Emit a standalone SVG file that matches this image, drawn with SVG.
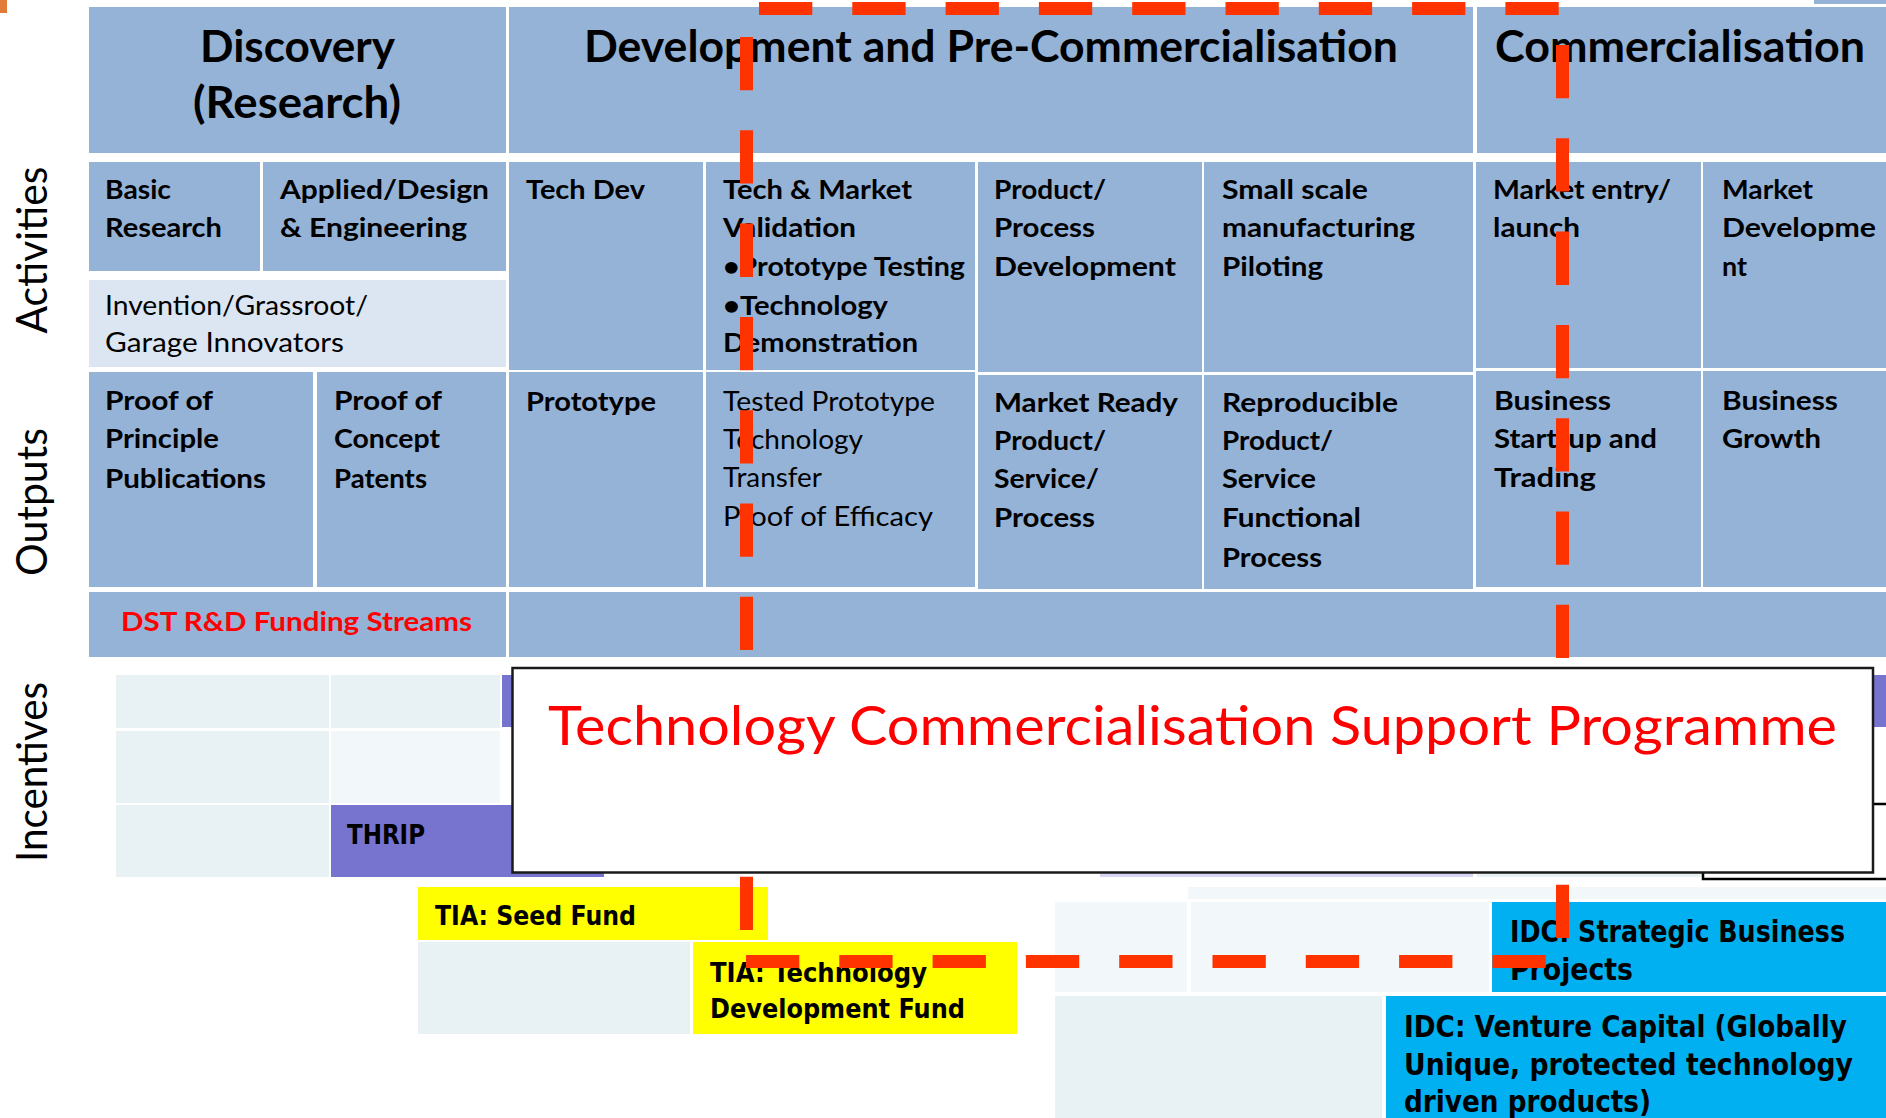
<svg xmlns="http://www.w3.org/2000/svg" width="1886" height="1118" viewBox="0 0 1886 1118">
<style>
.cell{fill:#95b3d7}
.lt{fill:#dce6f2}
.inc{fill:#e8f1f4}
.inc2{fill:#f2f7f9}
.pur{fill:#7674cf}
.yel{fill:#ffff00}
.idc{fill:#00b0f0}
text{font-family:Lato,"Liberation Sans",sans-serif;fill:#000}
.b{font-weight:700;font-size:27px}
.r{font-weight:400;font-size:27px}
.hdr{font-weight:700;font-size:43px}
.lbl{font-weight:400;font-size:43px}
.red{fill:#ff0000}
.cn{font-family:"DejaVu Sans","Liberation Sans",sans-serif;font-weight:700;font-size:27px}
.cn2{font-family:"DejaVu Sans","Liberation Sans",sans-serif;font-weight:700;font-size:30px}
.dash{stroke:#ff3300;stroke-width:13;stroke-dasharray:53.3 40;fill:none}
</style>
<rect x="0" y="0" width="7" height="13" fill="#e07b39"/>
<rect x="1814" y="0" width="72" height="4" class="cell"/>

<g id="labels">
<text class="lbl" transform="translate(47,250) rotate(-90)" text-anchor="middle" textLength="167" lengthAdjust="spacingAndGlyphs">Activities</text>
<text class="lbl" transform="translate(47,502) rotate(-90)" text-anchor="middle" textLength="148" lengthAdjust="spacingAndGlyphs">Outputs</text>
<text class="lbl" transform="translate(47,772) rotate(-90)" text-anchor="middle" textLength="180" lengthAdjust="spacingAndGlyphs">Incentives</text>
</g>

<g id="hdr-discovery"><rect class="cell" x="89" y="7" width="417" height="146"/>
<text class="hdr" x="200" y="62" textLength="195" lengthAdjust="spacingAndGlyphs">Discovery</text>
<text class="hdr" x="193" y="118" textLength="208" lengthAdjust="spacingAndGlyphs">(Research)</text></g>
<g id="hdr-development"><rect class="cell" x="509" y="7" width="964" height="146"/>
<text class="hdr" x="584" y="62" textLength="814" lengthAdjust="spacingAndGlyphs">Development and Pre-Commercialisation</text></g>
<g id="hdr-commercialisation"><rect class="cell" x="1477" y="7" width="409" height="146"/>
<text class="hdr" x="1495" y="62" textLength="370" lengthAdjust="spacingAndGlyphs">Commercialisation</text></g>

<g id="basic-research"><rect class="cell" x="89" y="162" width="171" height="109"/>
<text class="b" x="105" y="199" textLength="66" lengthAdjust="spacingAndGlyphs">Basic</text>
<text class="b" x="105" y="237" textLength="117" lengthAdjust="spacingAndGlyphs">Research</text></g>
<g id="applied"><rect class="cell" x="263" y="162" width="243" height="109"/>
<text class="b" x="280" y="199" textLength="209" lengthAdjust="spacingAndGlyphs">Applied/Design</text>
<text class="b" x="280" y="237" textLength="187" lengthAdjust="spacingAndGlyphs">&amp; Engineering</text></g>
<g id="invention"><rect class="lt" x="89" y="280" width="417" height="87"/>
<text class="r" x="105" y="315" textLength="263" lengthAdjust="spacingAndGlyphs">Invention/Grassroot/</text>
<text class="r" x="105" y="352" textLength="239" lengthAdjust="spacingAndGlyphs">Garage Innovators</text></g>
<g id="tech-dev"><rect class="cell" x="509" y="162" width="194" height="208"/>
<text class="b" x="526" y="199" textLength="119" lengthAdjust="spacingAndGlyphs">Tech Dev</text></g>
<g id="tech-market"><rect class="cell" x="706" y="162" width="269" height="208"/>
<text class="b" x="723" y="199" textLength="189" lengthAdjust="spacingAndGlyphs">Tech &amp; Market</text>
<text class="b" x="723" y="237" textLength="133" lengthAdjust="spacingAndGlyphs">Validation</text>
<text class="b" x="723" y="276" textLength="242" lengthAdjust="spacingAndGlyphs">•Prototype Testing</text>
<text class="b" x="723" y="315" textLength="165" lengthAdjust="spacingAndGlyphs">•Technology</text>
<text class="b" x="723" y="352" textLength="195" lengthAdjust="spacingAndGlyphs">Demonstration</text></g>
<g id="product-process"><rect class="cell" x="978" y="162" width="224" height="210"/>
<text class="b" x="994" y="199" textLength="112" lengthAdjust="spacingAndGlyphs">Product/</text>
<text class="b" x="994" y="237" textLength="101" lengthAdjust="spacingAndGlyphs">Process</text>
<text class="b" x="994" y="276" textLength="182" lengthAdjust="spacingAndGlyphs">Development</text></g>
<g id="small-scale"><rect class="cell" x="1204" y="162" width="269" height="210"/>
<text class="b" x="1222" y="199" textLength="146" lengthAdjust="spacingAndGlyphs">Small scale</text>
<text class="b" x="1222" y="237" textLength="193" lengthAdjust="spacingAndGlyphs">manufacturing</text>
<text class="b" x="1222" y="276" textLength="101" lengthAdjust="spacingAndGlyphs">Piloting</text></g>
<g id="market-entry"><rect class="cell" x="1476" y="162" width="225" height="206"/>
<text class="b" x="1493" y="199" textLength="178" lengthAdjust="spacingAndGlyphs">Market entry/</text>
<text class="b" x="1493" y="237" textLength="87" lengthAdjust="spacingAndGlyphs">launch</text></g>
<g id="market-development"><rect class="cell" x="1703" y="162" width="183" height="206"/>
<text class="b" x="1722" y="199" textLength="91" lengthAdjust="spacingAndGlyphs">Market</text>
<text class="b" x="1722" y="237" textLength="154" lengthAdjust="spacingAndGlyphs">Developme</text>
<text class="b" x="1722" y="276" textLength="25" lengthAdjust="spacingAndGlyphs">nt</text></g>

<g id="proof-principle"><rect class="cell" x="89" y="372" width="224" height="215"/>
<text class="b" x="105" y="410" textLength="108" lengthAdjust="spacingAndGlyphs">Proof of</text>
<text class="b" x="105" y="448" textLength="114" lengthAdjust="spacingAndGlyphs">Principle</text>
<text class="b" x="105" y="488" textLength="161" lengthAdjust="spacingAndGlyphs">Publications</text></g>
<g id="proof-concept"><rect class="cell" x="317" y="372" width="189" height="215"/>
<text class="b" x="334" y="410" textLength="108" lengthAdjust="spacingAndGlyphs">Proof of</text>
<text class="b" x="334" y="448" textLength="106" lengthAdjust="spacingAndGlyphs">Concept</text>
<text class="b" x="334" y="488" textLength="93" lengthAdjust="spacingAndGlyphs">Patents</text></g>
<g id="prototype"><rect class="cell" x="509" y="372" width="194" height="215"/>
<text class="b" x="526" y="411" textLength="130" lengthAdjust="spacingAndGlyphs">Prototype</text></g>
<g id="tested-prototype"><rect class="cell" x="706" y="372" width="269" height="215"/>
<text class="r" x="723" y="411" textLength="212" lengthAdjust="spacingAndGlyphs">Tested Prototype</text>
<text class="r" x="723" y="449" textLength="140" lengthAdjust="spacingAndGlyphs">Technology</text>
<text class="r" x="723" y="487" textLength="99" lengthAdjust="spacingAndGlyphs">Transfer</text>
<text class="r" x="723" y="526" textLength="210" lengthAdjust="spacingAndGlyphs">Proof of Efficacy</text></g>
<g id="market-ready"><rect class="cell" x="978" y="375" width="224" height="214"/>
<text class="b" x="994" y="412" textLength="184" lengthAdjust="spacingAndGlyphs">Market Ready</text>
<text class="b" x="994" y="450" textLength="112" lengthAdjust="spacingAndGlyphs">Product/</text>
<text class="b" x="994" y="488" textLength="105" lengthAdjust="spacingAndGlyphs">Service/</text>
<text class="b" x="994" y="527" textLength="101" lengthAdjust="spacingAndGlyphs">Process</text></g>
<g id="reproducible"><rect class="cell" x="1204" y="375" width="269" height="214"/>
<text class="b" x="1222" y="412" textLength="176" lengthAdjust="spacingAndGlyphs">Reproducible</text>
<text class="b" x="1222" y="450" textLength="111" lengthAdjust="spacingAndGlyphs">Product/</text>
<text class="b" x="1222" y="488" textLength="94" lengthAdjust="spacingAndGlyphs">Service</text>
<text class="b" x="1222" y="527" textLength="139" lengthAdjust="spacingAndGlyphs">Functional</text>
<text class="b" x="1222" y="567" textLength="100" lengthAdjust="spacingAndGlyphs">Process</text></g>
<g id="business-startup"><rect class="cell" x="1476" y="371" width="225" height="216"/>
<text class="b" x="1494" y="410" textLength="117" lengthAdjust="spacingAndGlyphs">Business</text>
<text class="b" x="1494" y="448" textLength="163" lengthAdjust="spacingAndGlyphs">Start-up and</text>
<text class="b" x="1494" y="487" textLength="102" lengthAdjust="spacingAndGlyphs">Trading</text></g>
<g id="business-growth"><rect class="cell" x="1703" y="371" width="183" height="216"/>
<text class="b" x="1722" y="410" textLength="116" lengthAdjust="spacingAndGlyphs">Business</text>
<text class="b" x="1722" y="448" textLength="99" lengthAdjust="spacingAndGlyphs">Growth</text></g>

<g id="dst-funding"><rect class="cell" x="89" y="592" width="417" height="65"/>
<text class="b red" x="121" y="631" textLength="351" lengthAdjust="spacingAndGlyphs">DST R&amp;D Funding Streams</text></g>
<g id="dst-band"><rect class="cell" x="509" y="592" width="1377" height="65"/></g>

<g id="incentive-grid">
<rect class="inc" x="116" y="675" width="213" height="53"/>
<rect class="inc" x="331" y="675" width="169" height="53"/>
<rect class="pur" x="502" y="675" width="1384" height="52"/>
<rect class="inc" x="116" y="731" width="213" height="72"/>
<rect class="inc2" x="331" y="731" width="169" height="72"/>
<rect class="inc" x="116" y="805" width="213" height="72"/>
<rect fill="#d6d5f2" x="1100" y="805" width="373" height="72"/>
<rect class="inc" x="1477" y="805" width="225" height="72"/>
<rect x="1703" y="804" width="200" height="75" fill="#fff" stroke="#000" stroke-width="2.5"/>
<rect class="inc2" x="1188" y="887" width="698" height="12"/>
<rect class="inc2" x="1055" y="902" width="132" height="90"/>
<rect class="inc2" x="1191" y="902" width="298" height="90"/>
<rect class="inc" x="418" y="942" width="272" height="92"/>
<rect class="inc" x="1055" y="996" width="327" height="122"/>
</g>
<g id="thrip"><rect class="pur" x="331" y="805" width="273" height="72"/>
<text class="cn" x="347" y="844" textLength="78" lengthAdjust="spacingAndGlyphs">THRIP</text></g>
<g id="tia-seed"><rect class="yel" x="418" y="887" width="350" height="53"/>
<text class="cn" x="435" y="925" textLength="201" lengthAdjust="spacingAndGlyphs">TIA: Seed Fund</text></g>
<g id="tia-tdf"><rect class="yel" x="693" y="942" width="324" height="92"/>
<text class="cn" x="710" y="982" textLength="217" lengthAdjust="spacingAndGlyphs">TIA: Technology</text>
<text class="cn" x="710" y="1018" textLength="255" lengthAdjust="spacingAndGlyphs">Development Fund</text></g>
<g id="idc-strategic"><rect class="idc" x="1492" y="902" width="394" height="90"/>
<text class="cn2" x="1510" y="942" textLength="335" lengthAdjust="spacingAndGlyphs">IDC: Strategic Business</text>
<text class="cn2" x="1510" y="980" textLength="123" lengthAdjust="spacingAndGlyphs">Projects</text></g>
<g id="idc-vc"><rect class="idc" x="1386" y="996" width="500" height="122"/>
<text class="cn2" x="1404" y="1037" textLength="443" lengthAdjust="spacingAndGlyphs">IDC: Venture Capital (Globally</text>
<text class="cn2" x="1404" y="1075" textLength="449" lengthAdjust="spacingAndGlyphs">Unique, protected technology</text>
<text class="cn2" x="1404" y="1112" textLength="247" lengthAdjust="spacingAndGlyphs">driven products)</text></g>

<g id="tcsp-boundary">
<line class="dash" x1="759" y1="8.5" x2="1562.5" y2="8.5"/>
<line class="dash" x1="1562.5" y1="45" x2="1562.5" y2="961.5"/>
<line class="dash" x1="746" y1="961.5" x2="1562.5" y2="961.5"/>
<line class="dash" x1="746.5" y1="37" x2="746.5" y2="961.5"/>
</g>

<g id="tcsp"><rect x="512.5" y="668" width="1360.5" height="204.5" fill="#fff" stroke="#1a1a1a" stroke-width="2.5"/>
<text x="548" y="745" font-size="55" class="red" textLength="1289" lengthAdjust="spacingAndGlyphs">Technology Commercialisation Support Programme</text></g>
</svg>
